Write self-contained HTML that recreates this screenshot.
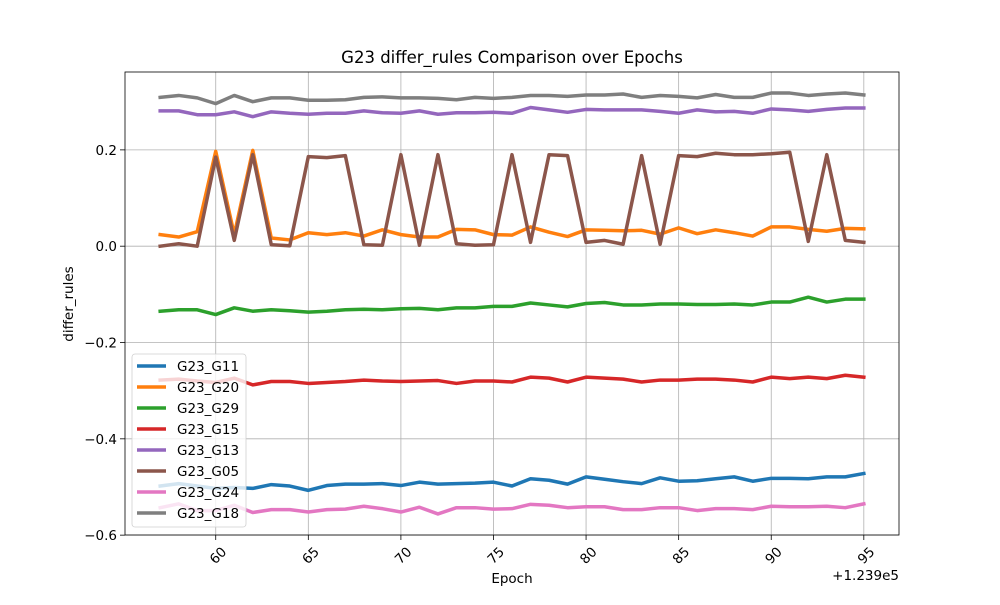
<!DOCTYPE html>
<html><head><meta charset="utf-8"><style>
body{margin:0;background:#fff;}
svg text{font-family:"DejaVu Sans","Liberation Sans",sans-serif;fill:#000;}
</style></head><body>
<svg id="chart" width="1000" height="600" xmlns="http://www.w3.org/2000/svg">
<rect width="1000" height="600" fill="#fff"/>
<g id="grid"></g><g id="series"></g><g id="axes"></g><g id="legend"></g>
<text x="512" y="63" font-size="16.5" text-anchor="middle">G23 differ_rules Comparison over Epochs</text>
<text x="512" y="583" font-size="13.5" text-anchor="middle">Epoch</text>
<text transform="translate(73,304) rotate(-90)" font-size="13.5" text-anchor="middle">differ_rules</text>
<text x="899" y="580" font-size="13.5" text-anchor="end">+1.239e5</text>
</svg>
<script>
const epochs=[57,58,59,60,61,62,63,64,65,66,67,68,69,70,71,72,73,74,75,76,77,78,79,80,81,82,83,84,85,86,87,88,89,90,91,92,93,94,95];
const seriesNames=["G23_G11","G23_G20","G23_G29","G23_G15","G23_G13","G23_G05","G23_G24","G23_G18"];
const G11=[-0.498,-0.493,-0.498,-0.503,-0.501,-0.503,-0.495,-0.498,-0.507,-0.497,-0.494,-0.494,-0.493,-0.497,-0.490,-0.494,-0.493,-0.492,-0.490,-0.498,-0.483,-0.486,-0.494,-0.479,-0.484,-0.489,-0.493,-0.481,-0.488,-0.487,-0.483,-0.479,-0.488,-0.482,-0.482,-0.483,-0.479,-0.479,-0.472];
const G20=[0.024,0.019,0.030,0.197,0.024,0.199,0.017,0.013,0.028,0.024,0.028,0.021,0.034,0.024,0.019,0.019,0.035,0.034,0.024,0.023,0.040,0.029,0.020,0.034,0.033,0.032,0.033,0.025,0.038,0.026,0.034,0.028,0.021,0.040,0.040,0.035,0.031,0.037,0.036];
const G29=[-0.135,-0.132,-0.132,-0.142,-0.128,-0.135,-0.132,-0.134,-0.137,-0.135,-0.132,-0.131,-0.132,-0.130,-0.129,-0.132,-0.128,-0.128,-0.125,-0.125,-0.118,-0.122,-0.126,-0.119,-0.117,-0.122,-0.122,-0.120,-0.120,-0.121,-0.121,-0.120,-0.122,-0.116,-0.116,-0.106,-0.116,-0.110,-0.110];
const G15=[-0.278,-0.276,-0.280,-0.283,-0.274,-0.288,-0.281,-0.281,-0.285,-0.283,-0.281,-0.278,-0.280,-0.281,-0.280,-0.279,-0.285,-0.280,-0.280,-0.282,-0.272,-0.274,-0.282,-0.272,-0.274,-0.276,-0.282,-0.278,-0.278,-0.276,-0.276,-0.278,-0.282,-0.272,-0.275,-0.272,-0.275,-0.268,-0.272];
const G13=[0.281,0.281,0.273,0.273,0.279,0.269,0.279,0.276,0.274,0.276,0.276,0.281,0.277,0.276,0.281,0.274,0.277,0.277,0.278,0.276,0.288,0.283,0.278,0.284,0.283,0.283,0.283,0.280,0.276,0.283,0.279,0.280,0.276,0.285,0.283,0.280,0.284,0.287,0.287];
const G05=[0,0.005,0,0.185,0.012,0.19,0.003,0.001,0.186,0.184,0.188,0.003,0.002,0.19,0.002,0.19,0.005,0.002,0.003,0.19,0.008,0.19,0.188,0.008,0.012,0.004,0.188,0.004,0.188,0.186,0.193,0.19,0.19,0.192,0.195,0.01,0.19,0.012,0.008];
const G24=[-0.543,-0.535,-0.549,-0.549,-0.538,-0.553,-0.547,-0.547,-0.552,-0.547,-0.546,-0.540,-0.545,-0.552,-0.542,-0.556,-0.543,-0.543,-0.546,-0.545,-0.536,-0.538,-0.543,-0.541,-0.541,-0.547,-0.547,-0.543,-0.543,-0.549,-0.545,-0.545,-0.547,-0.540,-0.541,-0.541,-0.540,-0.543,-0.535];
const G18=[0.309,0.313,0.308,0.296,0.313,0.300,0.308,0.308,0.303,0.303,0.304,0.309,0.310,0.308,0.308,0.307,0.304,0.309,0.307,0.309,0.313,0.313,0.311,0.314,0.314,0.316,0.309,0.313,0.311,0.308,0.315,0.309,0.309,0.318,0.318,0.313,0.316,0.318,0.314];
const xTicks=[60,65,70,75,80,85,90,95];
const yTicks=[-0.6,-0.4,-0.2,0.0,0.2];
const yTickLabels=["−0.6","−0.4","−0.2","0.0","0.2"];

const NS="http://www.w3.org/2000/svg";
const L=125,R=899,T=72,B=535;
const allSeries=[G11,G20,G29,G15,G13,G05,G24,G18];
const colors=["#1f77b4","#ff7f0e","#2ca02c","#d62728","#9467bd","#8c564b","#e377c2","#7f7f7f"];
const xmin=Math.min(...epochs),xmax=Math.max(...epochs);
const xpad=(xmax-xmin)*0.05;
const X0=xmin-xpad,X1=xmax+xpad;
const vals=allSeries.flat();
const vmin=Math.min(...vals),vmax=Math.max(...vals);
const ypad=(vmax-vmin)*0.05;
const Y0=vmin-ypad,Y1=vmax+ypad;
function sx(v){return L+(v-X0)/(X1-X0)*(R-L);}
function sy(v){return B-(v-Y0)/(Y1-Y0)*(B-T);}
function mk(tag,attrs,parent){const e=document.createElementNS(NS,tag);for(const k in attrs)e.setAttribute(k,attrs[k]);parent.appendChild(e);return e;}
const grid=document.getElementById('grid'),axes=document.getElementById('axes'),ser=document.getElementById('series'),leg=document.getElementById('legend');
xTicks.forEach(t=>{const x=sx(t);
 const g=mk('line',{x1:x,x2:x,y1:T,y2:B,stroke:'#b0b0b0','stroke-width':0.8},grid);
 
 
 const tk=mk('line',{x1:x,x2:x,y1:B,y2:B+5,stroke:'#000','stroke-width':0.8},axes);
 
 
 const tx=mk('text',{'font-size':13.5,'text-anchor':'end',transform:`translate(${x+4},${B+10}) rotate(-45)`,dy:'0.8em'},axes);
 tx.textContent=String(t);
 
 
});
yTicks.forEach((t,i)=>{const y=sy(t);
 const g=mk('line',{x1:L,x2:R,y1:y,y2:y,stroke:'#b0b0b0','stroke-width':0.8},grid);
 
 
 const tk=mk('line',{x1:L-5,x2:L,y1:y,y2:y,stroke:'#000','stroke-width':0.8},axes);
 
 
 const tx=mk('text',{x:L-8,y:y+5,'font-size':13.5,'text-anchor':'end'},axes);
 tx.textContent=yTickLabels[i];
 
 
});
const frame=mk('rect',{x:L,y:T,width:R-L,height:B-T,fill:'none',stroke:'#000','stroke-width':0.8},axes);


allSeries.forEach((s,i)=>{
 const d=s.map((v,j)=>(j?'L':'M')+sx(epochs[j]).toFixed(2)+','+sy(v).toFixed(2)).join(' ');
 const p=mk('path',{d:d,fill:'none',stroke:colors[i],'stroke-width':3.5,'stroke-linejoin':'round','stroke-linecap':'square'},ser);
 
 
});
const lb=mk('rect',{x:132,y:354,width:114,height:173,rx:3,fill:'#fff','fill-opacity':0.8,stroke:'#d0d0d0','stroke-width':0.8},leg);


seriesNames.forEach((n,i)=>{const y=366+i*21;
 const g=mk('g',{},leg);
 
 
 mk('line',{x1:137,x2:166,y1:y,y2:y,stroke:colors[i],'stroke-width':3.5},g);
 const t=mk('text',{x:177,y:y+5,'font-size':13.5},g);
 t.textContent=n;
});
</script>
</body></html>
